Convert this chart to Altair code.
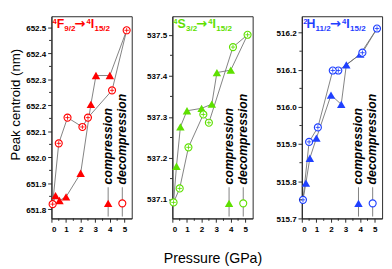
import altair as alt
import pandas as pd

# Pressures (GPa)
comp_p = [0.08, 0.28, 0.55, 1.0, 2.0, 2.7, 3.05, 4.0, 5.15]
decomp_p = [5.15, 4.15, 2.5, 2.12, 1.1, 0.5, 0.08]

# Peak centroids (nm)
red_comp = [651.820, 651.853, 651.834, 651.848, 651.939, 652.204, 652.315, 652.315, 652.489]
red_decomp = [652.489, 652.258, 652.153, 652.117, 652.153, 652.054, 651.820]
green_comp = [537.092, 537.180, 537.276, 537.315, 537.321, 537.331, 537.408, 537.414, 537.500]
green_decomp = [537.500, 537.470, 537.286, 537.306, 537.226, 537.126, 537.092]
blue_comp = [515.750, 515.795, 515.862, 515.916, 516.032, 516.007, 516.113, 516.142, 516.211]
blue_decomp = [516.211, 516.146, 516.098, 516.098, 515.945, 515.906, 515.750]

# Tick values
x_ticks = [0, 1, 2, 3, 4, 5]
x_minor = [0.5, 1.5, 2.5, 3.5, 4.5]
red_major = [651.8, 651.9, 652.0, 652.1, 652.2, 652.3, 652.4, 652.5]
red_minor = [651.85, 651.95, 652.05, 652.15, 652.25, 652.35, 652.45]
green_major = [537.1, 537.2, 537.3, 537.4, 537.5]
green_minor = [537.15, 537.25, 537.35, 537.45]
blue_major = [515.7, 515.8, 515.9, 516.0, 516.1, 516.2]
blue_minor = [515.75, 515.85, 515.95, 516.05, 516.15]

# Title pieces: (text, kind)
red_title = [("4", "sup"), ("F", "main"), ("9/2", "sub"), ("→", "arrow"), ("4", "sup"), ("I", "main"), ("15/2", "sub")]
green_title = [("4", "sup"), ("S", "main"), ("3/2", "sub"), ("→", "arrow"), ("4", "sup"), ("I", "main"), ("15/2", "sub")]
blue_title = [("2", "sup"), ("H", "main"), ("11/2", "sub"), ("→", "arrow"), ("4", "sup"), ("I", "main"), ("15/2", "sub")]
red_title_x = [1, 5.5, 13.5, 24, 37, 41.5, 45.5]
green_title_x = [1, 5.5, 14.5, 25, 38, 42.5, 46.5]
blue_title_x = [1.5, 5, 14.5, 29.5, 42.5, 47, 51]

legend_labels = ["compression", "decompression"]

W, H = 85, 214
FONT = "Liberation Sans"
LINE = "#6e6e6e"
RED, GREEN, BLUE = "#ff0000", "#5ee000", "#1f40ff"

KIND = {
    "sup": dict(size=8, y=8.5, font=FONT),
    "main": dict(size=13, y=12.5, font=FONT),
    "sub": dict(size=8.5, y=15.5, font=FONT),
    "arrow": dict(size=14, y=12.5, font="DejaVu Sans"),
}


def one():
    return pd.DataFrame({"k": [0]})


def panel(comp, decomp, color, domain, major, minor, tparts, tx, ytitle, xtitle):
    dc = pd.DataFrame({"p": comp_p, "v": comp, "i": list(range(len(comp_p)))})
    dd = pd.DataFrame({"p": decomp_p, "v": decomp, "i": list(range(len(decomp_p)))})
    xs = alt.Scale(domain=[0, 5.5], nice=False)
    ys = alt.Scale(domain=domain, nice=False, zero=False)
    xax_kw = dict(values=x_ticks, format="d", labelPadding=3)
    if xtitle:
        xax_kw.update(title=xtitle, titleFontSize=15, titlePadding=19)
    else:
        xax_kw.update(title=None)
    yax_kw = dict(values=major, format=".1f", labelPadding=2)
    if ytitle:
        yax_kw.update(title=ytitle, titleFontSize=14, titleX=-38, titleY=93,
                      titleAngle=270, titleBaseline="middle", titleAlign="center")
    else:
        yax_kw.update(title=None)
    X = alt.X("p:Q", scale=xs, axis=alt.Axis(**xax_kw))
    Y = alt.Y("v:Q", scale=ys, axis=alt.Axis(**yax_kw))

    layers = []
    layers.append(alt.Chart(dc).mark_line(color=LINE, strokeWidth=0.9).encode(x=X, y=Y, order="i:Q"))
    layers.append(alt.Chart(dd).mark_line(color=LINE, strokeWidth=0.9).encode(x=X, y=Y, order="i:Q"))
    layers.append(alt.Chart(dc.iloc[1:-1]).mark_point(shape="triangle-up", filled=True, color=color,
                                                      size=80, opacity=1).encode(x=X, y=Y))
    layers.append(alt.Chart(dd).mark_point(shape="circle", filled=True, fill="white", stroke=color,
                                           strokeWidth=1.2, size=55, opacity=1).encode(x=X, y=Y))
    layers.append(alt.Chart(dd).mark_point(shape="M-1,0H1M0,-1V1", filled=False, stroke=color,
                                           strokeWidth=0.9, size=22, opacity=1).encode(x=X, y=Y))
    # minor ticks
    layers.append(alt.Chart(pd.DataFrame({"v": minor})).mark_rule(color="#222", strokeWidth=1).encode(
        y=Y, x=alt.value(-2.5), x2=alt.value(0)))
    layers.append(alt.Chart(pd.DataFrame({"p": x_minor})).mark_rule(color="#222", strokeWidth=1).encode(
        x=X, y=alt.value(H), y2=alt.value(H + 2.5)))
    # legend
    for lx in (60, 75):
        layers.append(alt.Chart(one()).mark_rule(color=LINE, strokeWidth=0.9).encode(
            x=alt.value(lx), y=alt.value(181), y2=alt.value(212)))
    layers.append(alt.Chart(one()).mark_point(shape="triangle-up", filled=True, color=color, size=80,
                                              opacity=1).encode(x=alt.value(60), y=alt.value(198)))
    layers.append(alt.Chart(one()).mark_point(shape="circle", filled=True, fill="white", stroke=color,
                                              strokeWidth=1.2, size=55, opacity=1).encode(
        x=alt.value(75), y=alt.value(198)))
    for lbl, lx in zip(legend_labels, (60, 75)):
        layers.append(alt.Chart(pd.DataFrame({"t": [lbl]})).mark_text(
            angle=270, align="left", baseline="middle", font=FONT, fontSize=13,
            fontWeight="bold", fontStyle="italic", color="black").encode(
            x=alt.value(lx), y=alt.value(178), text="t:N"))
    # title pieces
    for (txt, kind), px in zip(tparts, tx):
        k = KIND[kind]
        layers.append(alt.Chart(pd.DataFrame({"t": [txt]})).mark_text(
            align="left", baseline="alphabetic", font=k["font"], fontSize=k["size"],
            fontWeight="bold", color=color).encode(
            x=alt.value(px), y=alt.value(k["y"]), text="t:N"))
    return alt.layer(*layers).properties(width=W, height=H)


p1 = panel(red_comp, red_decomp, RED, [651.765, 652.543], red_major, red_minor,
           red_title, red_title_x, "Peak centroid (nm)", None)
p2 = panel(green_comp, green_decomp, GREEN, [537.053, 537.545], green_major, green_minor,
           green_title, green_title_x, None, "Pressure (GPa)")
p3 = panel(blue_comp, blue_decomp, BLUE, [515.70, 516.244], blue_major, blue_minor,
           blue_title, blue_title_x, None, None)

chart = alt.hconcat(p1, p2, p3, spacing=13).properties(padding=0).configure_view(
    stroke="#222", strokeWidth=1).configure_axis(
    labelFont=FONT, labelFontWeight="bold", labelFontSize=8.5, labelColor="black",
    titleFont=FONT, titleFontWeight="normal", titleColor="black",
    tickSize=4, tickColor="#222", domainColor="#222", grid=False)

chart.save("out.html", embed_options={"renderer": "svg", "actions": False})
